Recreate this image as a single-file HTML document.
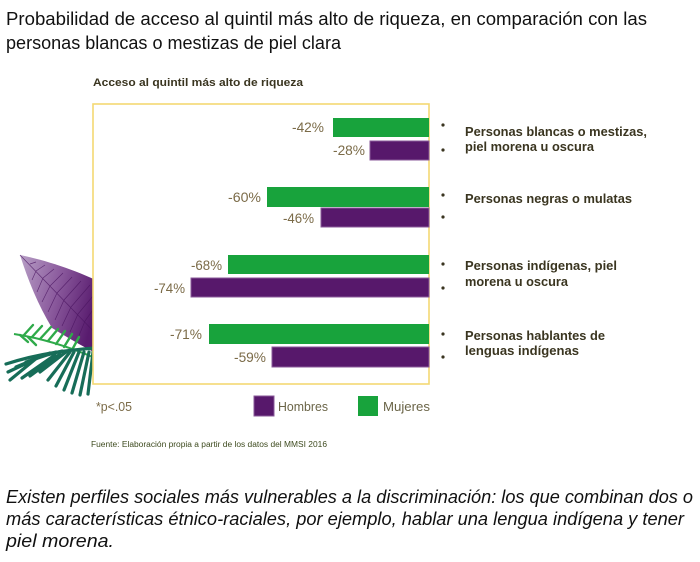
<!DOCTYPE html>
<html><head><meta charset="utf-8"><style>
html,body{margin:0;padding:0;background:#fff;}
svg{display:block;}
</style></head><body>
<svg width="700" height="562" viewBox="0 0 700 562" xmlns="http://www.w3.org/2000/svg">
<defs>
<linearGradient id="lg" x1="0" y1="0" x2="1" y2="0.3">
<stop offset="0" stop-color="#b8a0c6"/>
<stop offset="0.5" stop-color="#8c5c9e"/>
<stop offset="1" stop-color="#581b6e"/>
</linearGradient>
</defs>
<rect width="700" height="562" fill="#fff"/>
<g font-family="'Liberation Sans', sans-serif" fill="#111">
<text x="6" y="25" font-size="18" textLength="641" lengthAdjust="spacingAndGlyphs">Probabilidad de acceso al quintil más alto de riqueza, en comparación con las</text>
<text x="6" y="49" font-size="18" textLength="335" lengthAdjust="spacingAndGlyphs">personas blancas o mestizas de piel clara</text>
</g>
<text x="93" y="86" font-family="'Liberation Sans', sans-serif" font-weight="bold" font-size="11" fill="#3a3520" textLength="210" lengthAdjust="spacingAndGlyphs">Acceso al quintil más alto de riqueza</text>

<!-- leaves -->
<g>
<path d="M20,255 C45,260 75,270 100,282 L100,355 C85,348 65,336 52,328 C38,305 28,280 20,255 Z" fill="url(#lg)"/>
<g stroke="#4a1460" stroke-width="0.7" fill="none" opacity="0.75">
<path d="M20,255 L100,338"/>
<path d="M30,264 L36,262 M36,271 L45,265 M43,278 L54,269 M50,286 L63,273 M57,293 L72,277 M64,300 L81,281 M71,307 L90,285 M78,314 L98,290 M85,321 L100,300"/>
<path d="M36,271 L32,280 M43,278 L37,292 M50,286 L42,302 M57,293 L48,312 M64,300 L55,320 M71,307 L62,326 M78,314 L70,332 M85,321 L78,338"/>
</g>
<path d="M14,334 C40,338 65,345 95,358" stroke="#2faa4a" stroke-width="2" fill="none"/>
<g stroke="#2faa4a" stroke-width="2.4" stroke-linecap="round" fill="none">
<path d="M24,335 L33,325 M32,337 L42,326 M40,339 L51,327 M48,341 L58,329 M56,344 L65,331 M64,347 L72,334 M72,350 L79,337"/>
<path d="M20,335 L28,342 M28,337 L36,345"/>
</g>
<g stroke="#176d58" stroke-width="3.2" stroke-linecap="round" fill="none">
<path d="M95,348 C70,350 40,353 6,364"/>
<path d="M62,351 L36,358 M56,352 L26,362 M50,353 L16,367 M44,355 L8,372 M38,357 L10,380"/>
<path d="M66,352 L40,372 M70,352 L48,380 M74,352 L56,386 M79,352 L64,390 M84,352 L72,393 M89,352 L80,395 M93,352 L88,394"/>
<path d="M60,354 L30,376 M55,355 L22,378"/>
</g>
</g>

<!-- box -->
<rect x="93" y="104" width="336" height="280" fill="#fff" stroke="#f3d873" stroke-width="1.6"/>

<!-- bars -->
<g stroke-width="1">
<rect x="333" y="118" width="96" height="19" fill="#18a33c"/>
<rect x="370" y="141" width="59" height="19" fill="#57186b" stroke="#8a5a9a"/>
<rect x="267" y="187" width="162" height="20" fill="#18a33c"/>
<rect x="321" y="208" width="108" height="19" fill="#57186b" stroke="#8a5a9a"/>
<rect x="228" y="255" width="201" height="19" fill="#18a33c"/>
<rect x="191" y="278" width="238" height="19" fill="#57186b" stroke="#8a5a9a"/>
<rect x="209" y="324" width="220" height="20" fill="#18a33c"/>
<rect x="272" y="347" width="157" height="20" fill="#57186b" stroke="#8a5a9a"/>
</g>

<!-- value labels -->
<g font-family="'Liberation Sans', sans-serif" font-size="14" fill="#7b6b48">
<text x="292" y="132" textLength="32" lengthAdjust="spacingAndGlyphs">-42%</text>
<text x="333" y="155" textLength="32" lengthAdjust="spacingAndGlyphs">-28%</text>
<text x="228" y="202" textLength="33" lengthAdjust="spacingAndGlyphs">-60%</text>
<text x="283" y="223" textLength="31" lengthAdjust="spacingAndGlyphs">-46%</text>
<text x="191" y="270" textLength="31" lengthAdjust="spacingAndGlyphs">-68%</text>
<text x="154" y="293" textLength="31" lengthAdjust="spacingAndGlyphs">-74%</text>
<text x="170" y="339" textLength="32" lengthAdjust="spacingAndGlyphs">-71%</text>
<text x="234" y="362" textLength="32" lengthAdjust="spacingAndGlyphs">-59%</text>
</g>

<!-- asterisks -->
<g fill="#3a3520">
<circle cx="443" cy="125" r="1.6"/>
<circle cx="443" cy="150" r="1.6"/>
<circle cx="443" cy="195" r="1.6"/>
<circle cx="443" cy="217" r="1.6"/>
<circle cx="443" cy="264" r="1.6"/>
<circle cx="443" cy="288" r="1.6"/>
<circle cx="443" cy="334" r="1.6"/>
<circle cx="443" cy="357" r="1.6"/>
</g>

<!-- category labels -->
<g font-family="'Liberation Sans', sans-serif" font-weight="bold" font-size="13" fill="#3a3520">
<text x="465" y="136" textLength="182" lengthAdjust="spacingAndGlyphs">Personas blancas o mestizas,</text>
<text x="465" y="151" textLength="129" lengthAdjust="spacingAndGlyphs">piel morena u oscura</text>
<text x="465" y="203" textLength="167" lengthAdjust="spacingAndGlyphs">Personas negras o mulatas</text>
<text x="465" y="270" textLength="152" lengthAdjust="spacingAndGlyphs">Personas indígenas, piel</text>
<text x="465" y="286" textLength="103" lengthAdjust="spacingAndGlyphs">morena u oscura</text>
<text x="465" y="340" textLength="140" lengthAdjust="spacingAndGlyphs">Personas hablantes de</text>
<text x="465" y="355" textLength="114" lengthAdjust="spacingAndGlyphs">lenguas indígenas</text>
</g>

<!-- footnote & legend -->
<text x="96" y="411" font-family="'Liberation Sans', sans-serif" font-size="13" fill="#7b6b48" textLength="36" lengthAdjust="spacingAndGlyphs">*p&lt;.05</text>
<rect x="254" y="396" width="20" height="20" fill="#57186b" stroke="#8a5a9a" stroke-width="1"/>
<text x="278" y="411" font-family="'Liberation Sans', sans-serif" font-size="13" fill="#6b6548" textLength="50" lengthAdjust="spacingAndGlyphs">Hombres</text>
<rect x="358" y="396" width="20" height="20" fill="#18a33c"/>
<text x="383" y="411" font-family="'Liberation Sans', sans-serif" font-size="13" fill="#6b6548" textLength="47" lengthAdjust="spacingAndGlyphs">Mujeres</text>

<text x="91" y="447" font-family="'Liberation Sans', sans-serif" font-size="8" fill="#3d4a1e" textLength="236" lengthAdjust="spacingAndGlyphs">Fuente: Elaboración propia a partir de los datos del MMSI 2016</text>

<!-- bottom italic -->
<g font-family="'Liberation Sans', sans-serif" font-style="italic" font-size="18" fill="#111">
<text x="6" y="503" textLength="687" lengthAdjust="spacingAndGlyphs">Existen perfiles sociales más vulnerables a la discriminación: los que combinan dos o</text>
<text x="6" y="525" textLength="678" lengthAdjust="spacingAndGlyphs">más características étnico-raciales, por ejemplo, hablar una lengua indígena y tener</text>
<text x="6" y="547" textLength="108" lengthAdjust="spacingAndGlyphs">piel morena.</text>
</g>
</svg>
</body></html>
